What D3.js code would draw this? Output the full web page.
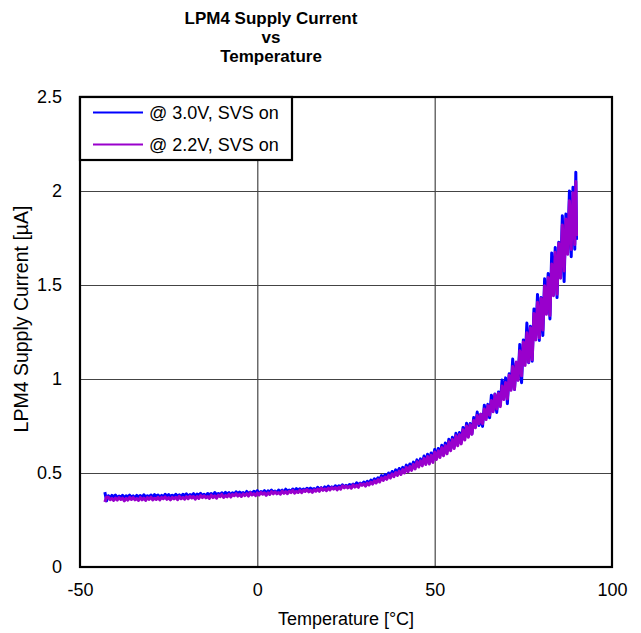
<!DOCTYPE html>
<html>
<head>
<meta charset="utf-8">
<script src="https://cdn.jsdelivr.net/npm/d3@7"></script>
<style>
  html, body { margin: 0; padding: 0; background: #fff; }
  svg { display: block; }
  text { font-family: "Liberation Sans", Arial, sans-serif; fill: #000; }
</style>
</head>
<body>
<svg id="chart" width="641" height="633"></svg>
<script>
// ---- data ----
const titleLines = ["LPM4 Supply Current", "vs", "Temperature"];
const xTicks = [-50, 0, 50, 100];
const yTicks = [0, 0.5, 1, 1.5, 2, 2.5];
const xTickLabels = ["-50", "0", "50", "100"];
const yTickLabels = ["0", "0.5", "1", "1.5", "2", "2.5"];
const seriesNames = ["@ 3.0V, SVS on", "@ 2.2V, SVS on"];

const temps = [
  -43,-42.5,-42,-41.5,-41,-40.5,-40,-39.5,-39,-38.5,
  -38,-37.5,-37,-36.5,-36,-35.5,-35,-34.5,-34,-33.5,
  -33,-32.5,-32,-31.5,-31,-30.5,-30,-29.5,-29,-28.5,
  -28,-27.5,-27,-26.5,-26,-25.5,-25,-24.5,-24,-23.5,
  -23,-22.5,-22,-21.5,-21,-20.5,-20,-19.5,-19,-18.5,
  -18,-17.5,-17,-16.5,-16,-15.5,-15,-14.5,-14,-13.5,
  -13,-12.5,-12,-11.5,-11,-10.5,-10,-9.5,-9,-8.5,
  -8,-7.5,-7,-6.5,-6,-5.5,-5,-4.5,-4,-3.5,
  -3,-2.5,-2,-1.5,-1,-0.5,0,0.5,1,1.5,
  2,2.5,3,3.5,4,4.5,5,5.5,6,6.5,
  7,7.5,8,8.5,9,9.5,10,10.5,11,11.5,
  12,12.5,13,13.5,14,14.5,15,15.5,16,16.5,
  17,17.5,18,18.5,19,19.5,20,20.5,21,21.5,
  22,22.5,23,23.5,24,24.5,25,25.5,26,26.5,
  27,27.5,28,28.5,29,29.5,
  30,30.5,31,31.5,32,32.5,33,33.5,34,34.5,
  35,35.5,36,36.5,37,37.5,38,38.5,39,39.5,
  40,40.5,41,41.5,42,42.5,43,43.5,44,44.5,
  45,45.5,46,46.5,47,47.5,48,48.5,49,49.5,
  50,50.5,51,51.5,52,52.5,53,53.5,54,54.5,
  55,55.5,56,56.5,57,57.5,58,58.5,59,59.5,
  60,60.5,61,61.5,62,62.5,63,63.5,64,64.5,
  65,65.5,66,66.5,67,67.5,68,68.5,69,69.5,
  70,70.5,71,71.5,72,72.5,73,73.5,74,74.5,
  75,75.5,76,76.5,77,77.5,78,78.5,79,79.5,
  80,80.5,81,81.5,82,82.5,83,83.5,84,84.5,
  85,85.5,86,86.5,87,87.5,88,88.5,89,89.5,
  89.8,90
];

const current30 = [
  .398,.352,.379,.368,.381,.373,.383,.369,.377,.371,
  .381,.368,.379,.373,.382,.370,.378,.368,.381,.373,
  .380,.369,.384,.373,.379,.371,.383,.372,.385,.376,
  .383,.370,.381,.372,.387,.377,.385,.375,.382,.373,
  .387,.375,.384,.373,.387,.379,.389,.376,.385,.379,
  .390,.377,.388,.382,.392,.379,.387,.378,.391,.383,
  .391,.380,.396,.385,.391,.383,.395,.384,.397,.388,
  .396,.383,.395,.386,.400,.390,.399,.390,.396,.387,
  .402,.390,.399,.388,.403,.395,.406,.392,.401,.395,
  .406,.393,.405,.399,.409,.397,.404,.395,.409,.401,
  .409,.398,.414,.404,.409,.402,.415,.404,.417,.409,
  .416,.404,.415,.406,.419,.411,.420,.412,.417,.409,
  .424,.412,.422,.412,.426,.419,.430,.417,.426,.420,
  .432,.420,.432,.427,.437,.425,.435,.426,.439,.432,
  .441,.431,.448,.438,.446,.439,
  .452,.441,.456,.446,.462,.452,.469,.459,.475,.465,
  .486,.470,.492,.478,.500,.486,.508,.492,.517,.500,
  .524,.505,.530,.512,.542,.520,.548,.527,.558,.536,
  .570,.540,.575,.548,.590,.560,.600,.558,.606,.572,
  .625,.585,.630,.595,.648,.605,.660,.615,.680,.630,
  .690,.640,.712,.655,.715,.665,.742,.690,.765,.700,
  .763,.708,.795,.751,.824,.753,.813,.748,.861,.793,
  .865,.794,.914,.836,.920,.822,.931,.861,.995,.905,
  1.006,.869,1.028,.944,1.106,.944,1.085,.995,1.184,.980,
  1.208,1.089,1.298,1.087,1.280,1.095,1.373,1.231,1.450,1.205,
  1.434,1.231,1.533,1.350,1.561,1.319,1.670,1.467,1.700,1.433,
  1.728,1.540,1.868,1.518,1.877,1.670,2.000,1.650,2.020,1.690,
  2.100,1.740
];

const current22 = [
  .346,.372,.371,.358,.365,.354,.367,.356,.369,.359,
  .366,.352,.365,.356,.370,.359,.369,.357,.364,.354,
  .370,.357,.366,.354,.369,.360,.372,.357,.366,.359,
  .371,.357,.370,.363,.373,.360,.369,.357,.371,.362,
  .371,.358,.376,.363,.370,.361,.374,.363,.377,.367,
  .375,.361,.375,.365,.380,.369,.379,.368,.375,.365,
  .382,.369,.379,.366,.382,.374,.386,.370,.380,.373,
  .387,.372,.386,.379,.390,.377,.386,.375,.389,.380,
  .390,.377,.396,.383,.390,.380,.394,.383,.397,.387,
  .395,.381,.395,.386,.401,.389,.400,.389,.396,.387,
  .404,.392,.401,.390,.403,.396,.408,.393,.402,.396,
  .409,.395,.408,.402,.412,.400,.408,.397,.411,.403,
  .414,.402,.420,.408,.416,.406,.420,.410,.423,.414,
  .423,.410,.424,.414,.432,.421,.431,.421,.429,.419,
  .437,.425,.435,.424,.442,.434,
  .443,.430,.447,.436,.452,.441,.459,.447,.465,.452,
  .474,.460,.479,.466,.488,.473,.495,.480,.503,.487,
  .510,.492,.518,.500,.530,.507,.535,.514,.546,.522,
  .560,.532,.565,.538,.578,.545,.588,.548,.594,.556,
  .612,.572,.618,.582,.636,.592,.646,.602,.666,.618,
  .678,.630,.698,.645,.705,.655,.730,.675,.750,.690,
  .757,.706,.779,.741,.806,.762,.813,.762,.841,.784,
  .858,.807,.886,.826,.917,.840,.924,.853,.963,.891,
  .982,.894,1.020,.940,1.066,.945,1.090,.993,1.150,1.017,
  1.197,1.072,1.246,1.089,1.273,1.103,1.349,1.208,1.408,1.219,
  1.428,1.260,1.496,1.344,1.540,1.338,1.612,1.443,1.674,1.451,
  1.722,1.536,1.819,1.575,1.851,1.663,1.948,1.689,1.991,1.715,
  2.050,1.760
];

const seriesColors = ["#0000ff", "#9900cc"];

// ---- chart ----
const svg = d3.select("#chart");
const margin = { left: 80, right: 29, top: 97, bottom: 66 };
const W = 641, H = 633;
const x = d3.scaleLinear().domain([-50, 100]).range([margin.left, W - margin.right]);
const y = d3.scaleLinear().domain([0, 2.5]).range([H - margin.bottom, margin.top]);
const plotW = x.range()[1] - x.range()[0];
const plotH = y.range()[0] - y.range()[1];
const FS = "18px";

// title
const title = svg.append("text")
  .attr("x", 271).attr("y", 24)
  .attr("text-anchor", "middle")
  .style("font-weight", "bold").style("font-size", "17px");
titleLines.forEach((t, i) => {
  title.append("tspan").attr("x", 271).attr("dy", i === 0 ? 0 : 19).text(t);
});

// grid
svg.append("g")
  .attr("transform", `translate(0,${y(0)})`)
  .call(d3.axisBottom(x).tickValues(xTicks).tickSize(-plotH).tickFormat(""))
  .call(g => g.select(".domain").remove())
  .call(g => g.selectAll("line").attr("stroke", "#222").attr("stroke-width", 1));
svg.append("g")
  .attr("transform", `translate(${x(-50)},0)`)
  .call(d3.axisLeft(y).tickValues(yTicks).tickSize(-plotW).tickFormat(""))
  .call(g => g.select(".domain").remove())
  .call(g => g.selectAll("line").attr("stroke", "#444").attr("stroke-width", 1.2));

// axes labels
const xAxis = svg.append("g")
  .attr("transform", `translate(0,${y(0)})`)
  .call(d3.axisBottom(x).tickValues(xTicks).tickSize(0).tickPadding(16)
    .tickFormat((d, i) => xTickLabels[i]));
xAxis.select(".domain").remove();
xAxis.selectAll("text").style("font-size", FS).style("font-family", "Liberation Sans, Arial, sans-serif").attr("fill", "#000");

const yAxis = svg.append("g")
  .attr("transform", `translate(${x(-50)},0)`)
  .call(d3.axisLeft(y).tickValues(yTicks).tickSize(0).tickPadding(18)
    .tickFormat((d, i) => yTickLabels[i]));
yAxis.select(".domain").remove();
yAxis.selectAll("text").style("font-size", FS).style("font-family", "Liberation Sans, Arial, sans-serif").attr("fill", "#000");

// axis titles
svg.append("text")
  .attr("x", (x.range()[0] + x.range()[1]) / 2).attr("y", 625)
  .attr("text-anchor", "middle").style("font-size", FS)
  .text("Temperature [°C]");
svg.append("text")
  .attr("transform", `translate(28,319) rotate(-90)`)
  .attr("text-anchor", "middle").style("font-size", "19.5px")
  .text("LPM4 Supply Current [µA]");

// series
const seriesData = [current30, current22];
const line = d3.line().x(d => x(d[0])).y(d => y(d[1]));
seriesData.forEach((vals, si) => {
  const pts = temps.map((t, i) => [t, vals[i]]);
  svg.append("path")
    .datum(pts)
    .attr("fill", "none")
    .attr("stroke", seriesColors[si])
    .attr("stroke-width", 3)
    .attr("stroke-linejoin", "round")
    .attr("d", line);
});

// plot border
svg.append("rect")
  .attr("x", x(-50)).attr("y", y(2.5))
  .attr("width", plotW).attr("height", plotH)
  .attr("fill", "none").attr("stroke", "#000").attr("stroke-width", 2.2);

// legend
const lg = svg.append("g");
lg.append("rect")
  .attr("x", x(-50)).attr("y", y(2.5))
  .attr("width", 212).attr("height", 63)
  .attr("fill", "#fff").attr("stroke", "#000").attr("stroke-width", 2.2);
seriesNames.forEach((name, i) => {
  const ly = y(2.5) + 15.5 + i * 32;
  lg.append("line")
    .attr("x1", x(-50) + 13).attr("x2", x(-50) + 63)
    .attr("y1", ly).attr("y2", ly)
    .attr("stroke", seriesColors[i]).attr("stroke-width", 2.2);
  lg.append("text")
    .attr("x", x(-50) + 69).attr("y", ly + 6.3)
    .style("font-size", FS)
    .text(name);
});
</script>
</body>
</html>
